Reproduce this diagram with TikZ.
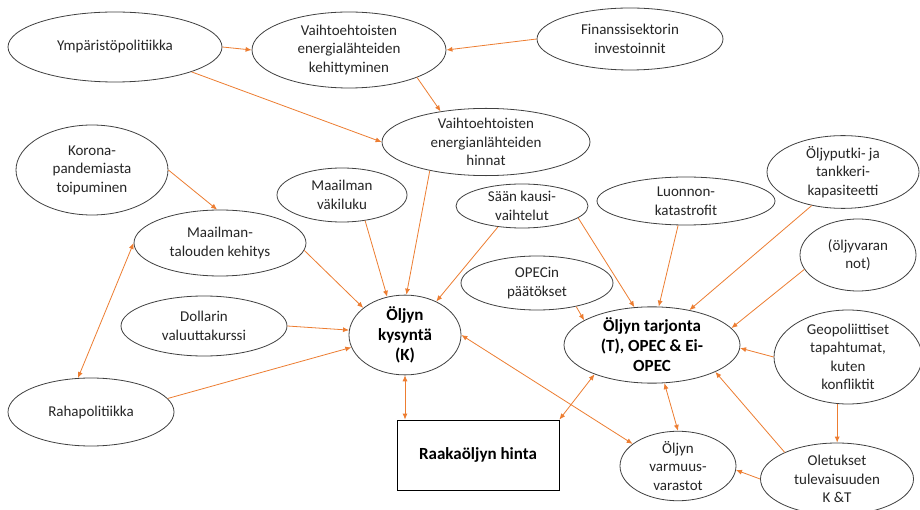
\documentclass[tikz,border=0pt]{standalone}
\usepackage{fontspec}
\setmainfont{Carlito}
\usetikzlibrary{shapes.geometric,arrows.meta,calc}
\definecolor{linkorange}{HTML}{ED7D31}
\definecolor{rimgray}{HTML}{404040}
\definecolor{inkgray}{HTML}{262626}
\begin{document}
\begin{tikzpicture}[x=1pt,y=-1pt,
  factor/.style={ellipse, draw=rimgray, line width=0.8pt, inner sep=0pt,
    align=center, text=inkgray, font=\fontsize{15}{18.5}\selectfont},
  keyfactor/.style={factor, text=black, font=\fontsize{17}{20}\selectfont\bfseries},
  pricebox/.style={rectangle, draw=black, line width=0.8pt, inner sep=0pt,
    align=center, font=\fontsize{17}{20}\selectfont\bfseries},
  tip/.tip={Latex[length=6pt,width=5pt]},
  link/.style={draw=linkorange, line width=0.8pt, -tip},
  twoway/.style={draw=linkorange, line width=0.8pt, tip-tip},
]
\fill[white] (0,0) rectangle (920,510);
\useasboundingbox (0,0) rectangle (920,510);

% factors
\node[factor, minimum width=214pt, minimum height=70pt] (ymp) at (115,47) {Ympäristöpolitiikka};
\node[factor, minimum width=194pt, minimum height=76pt] (keh) at (349,50) {Vaihtoehtoisten\\energialähteiden\\kehittyminen};
\node[factor, minimum width=186pt, minimum height=62pt] (fin) at (630,39) {Finanssisektorin\\investoinnit};
\node[factor, minimum width=208pt, minimum height=62pt] (hin) at (486,142) {Vaihtoehtoisten\\energianlähteiden\\hinnat};
\node[factor, minimum width=152pt, minimum height=90pt] (kor) at (92,170) {Korona-\\pandemiasta\\toipuminen};
\node[factor, minimum width=130pt, minimum height=54pt] (vak) at (342,195) {Maailman\\väkiluku};
\node[factor, minimum width=172pt, minimum height=66pt] (mt) at (220,243) {Maailman-\\talouden kehitys};
\node[factor, minimum width=132pt, minimum height=44pt] (saa) at (522,206) {Sään kausi-\\vaihtelut};
\node[factor, minimum width=178pt, minimum height=48pt] (luo) at (686,201) {Luonnon-\\katastrofit};
\node[factor, minimum width=152pt, minimum height=64pt] (put) at (843,172) {Öljyputki- ja\\tankkeri-\\kapasiteetti};
\node[factor, minimum width=116pt, minimum height=72pt] (var) at (858,255) {(öljyvaran\\not)};
\node[factor, minimum width=152pt, minimum height=54pt] (opec) at (537,283) {OPECin\\päätökset};
\node[factor, minimum width=166pt, minimum height=60pt] (dol) at (204,326) {Dollarin\\valuuttakurssi};
\node[keyfactor, minimum width=112pt, minimum height=70pt] (kys) at (405,335) {Öljyn\\kysyntä\\(K)};
\node[keyfactor, minimum width=176pt, minimum height=72pt] (tar) at (652,345) {Öljyn tarjonta\\(T), OPEC \& Ei-\\OPEC};
\node[factor, minimum width=148pt, minimum height=94pt] (geo) at (848,357) {Geopoliittiset\\tapahtumat,\\kuten\\konfliktit};
\node[factor, minimum width=166pt, minimum height=68pt] (raha) at (91,412) {Rahapolitiikka};
\node[pricebox, minimum width=162pt, minimum height=70pt] (hinta) at (478,455) {Raakaöljyn hinta};
\node[factor, minimum width=116pt, minimum height=58pt] (varm) at (678,466) {Öljyn\\varmuus-\\varastot};
\node[factor, minimum width=153pt, minimum height=72pt] (olet) at (837,479) {Oletukset\\tulevaisuuden\\K \&T};

% influences
\draw[link] (ymp.east) -- (keh.west);
\draw[link] (fin.west) -- (keh.east);
\draw[link] (keh.-22) -- (hin.146);
\draw[link] (ymp.-18) -- (hin.west);
\draw[link] (kor.east) -- (mt.95);
\draw[twoway] (raha.111) -- (mt.west);
\draw[link] (mt.-5) -- (kys.147);
\draw[link] (vak.-48) -- (kys.115);
\draw[link] (hin.207) -- (kys.88);
\draw[link] (saa.221) -- (kys.47);
\draw[link] (saa.-12) -- (tar.115);
\draw[link] (dol.east) -- (kys.175);
\draw[link] (raha.10) -- (kys.193);
\draw[twoway] (kys.south) -- (kys.south |- hinta.north);
\draw[twoway] (tar.207) -- (hinta.north east);
\draw[twoway] (kys.east) -- (varm.154);
\draw[twoway] (tar.-72) -- (varm.north);
\draw[link] (luo.-108) -- (tar.80);
\draw[link] (put.227) -- (tar.43);
\draw[link] (var.195) -- (tar.12);
\draw[link] (opec.-31) -- (tar.160);
\draw[link] (geo.west) -- (tar.-2);
\draw[link] (geo.-103) -- (geo.-103 |- olet.north);
\draw[link] (olet.153) -- (tar.-23);
\draw[link] (olet.west) -- (varm.-4);
\end{tikzpicture}
\end{document}
